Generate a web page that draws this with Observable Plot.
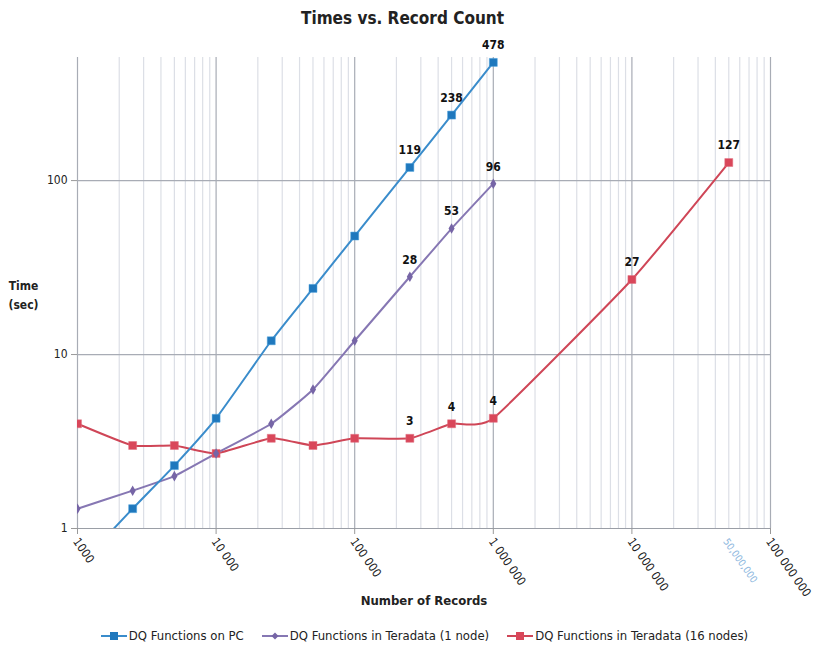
<!DOCTYPE html>
<html><head><meta charset="utf-8">
<script src="https://cdn.jsdelivr.net/npm/d3@7"></script>
<script src="https://cdn.jsdelivr.net/npm/@observablehq/plot@0.6"></script>
<style>
body{margin:0;background:#fff;font-family:"Liberation Sans Narrow","DejaVu Sans Condensed","Roboto Condensed",Arial,sans-serif;color:#222}
#title{width:815px;height:34px;line-height:36px;text-align:center;font-weight:bold;font-size:17px;color:#222;box-sizing:border-box;padding-right:10px}
#legend{width:815px;height:31px;display:flex;justify-content:center;align-items:center;font-size:13px;color:#222;gap:0;box-sizing:border-box;padding-left:34px}
.item{display:flex;align-items:center;margin:0 9px}
.item svg{margin-right:2px}
</style></head>
<body>
<div id="title">Times vs. Record Count</div>
<div id="chart"></div>
<div id="legend"></div>
<script>
// ---- data ----
const records = [1000, 2500, 5000, 10000, 25000, 50000, 100000, 250000, 500000, 1000000];
const pcTimes = [0.6, 1.3, 2.3, 4.3, 12, 24, 48, 119, 238, 478];
const node1Times = [1.3, 1.65, 2.0, 2.7, 4.0, 6.3, 12, 28, 53, 96];
const records16 = [1000, 2500, 5000, 10000, 25000, 50000, 100000, 250000, 500000, 1000000, 10000000, 50000000];
const node16Times = [4.0, 3.0, 3.0, 2.7, 3.3, 3.0, 3.3, 3.3, 4.0, 4.3, 27, 127];
const pcLabels = ["", "", "", "", "", "", "", "119", "238", "478"];
const node1Labels = ["", "", "", "", "", "", "", "28", "53", "96"];
const node16Labels = ["", "", "", "", "", "", "", "3", "4", "4", "27", "127"];
const seriesNames = ["DQ Functions on PC", "DQ Functions in Teradata (1 node)", "DQ Functions in Teradata (16 nodes)"];
const xTickValues = [1e3, 1e4, 1e5, 1e6, 1e7, 1e8];
const xTickLabels = ["1000", "10 000", "100 000", "1 000 000", "10 000 000", "100 000 000"];
const extraTickValues = [5e7];
const extraTickLabels = ["50,000,000"];
const yTickValues = [1, 10, 100];

// ---- build ----
const colors = {pcLine:"#3a8ccb", pcDot:"#1f78bd", n1Line:"#8677b3", n1Dot:"#7665a6", n16Line:"#cf4657", n16Dot:"#d9475a"};
const pc = records.map((r,i)=>({x:r, y:pcTimes[i], label:pcLabels[i]}));
const n1 = records.map((r,i)=>({x:r, y:node1Times[i], label:node1Labels[i]}));
const n16 = records16.map((r,i)=>({x:r, y:node16Times[i], label:node16Labels[i]}));
const minor = [];
for (let e = 3; e < 8; e++) for (let k = 2; k <= 9; k++) minor.push(k * 10 ** e);
const xt = xTickValues.map((v,i)=>({v, t:xTickLabels[i]}));
const xe = extraTickValues.map((v,i)=>({v, t:extraTickLabels[i]}));
const ff = '"Liberation Sans Narrow","DejaVu Sans Condensed",Arial,sans-serif';
const curve = "cardinal", tension = 0.55;

const chart = Plot.plot({
  width: 815, height: 586,
  marginTop: 23, marginLeft: 77, marginRight: 45, marginBottom: 92,
  style: {fontFamily: ff, fontSize: "12px", color: "#222", background: "#fff", overflow: "visible"},
  x: {type: "log", domain: [1e3, 1e8], axis: null},
  y: {type: "log", domain: [1, 510], axis: null},
  marks: [
    Plot.ruleX(minor, {stroke: "#dcdfe6", strokeWidth: 1.2}),
    Plot.ruleX(xTickValues, {stroke: "#a8acb5", strokeWidth: 1.2}),
    Plot.ruleY([10, 100], {stroke: "#a8acb5", strokeWidth: 1.2}),
    Plot.ruleY([1], {stroke: "#9a9ea6", strokeWidth: 1.2}),
    Plot.axisX({ticks: xTickValues, tickSize: 6, tickFormat: () => "", stroke: "#999", label: null}),
    Plot.axisY({ticks: yTickValues, tickSize: 6, tickPadding: 4, tickFormat: d => String(d), stroke: "#999", fill: "#222", fontSize: 12, label: null}),
    Plot.text(xt, {x: "v", text: "t", frameAnchor: "bottom", rotate: 55, textAnchor: "start", dx: -5, dy: 13, fill: "#222", fontSize: 12}),
    Plot.text(xe, {x: "v", text: "t", frameAnchor: "bottom", rotate: 55, textAnchor: "start", dx: -6, dy: 13, fill: "#8db7de", fontSize: 10}),
    Plot.text(["Time\n(sec)"], {frameAnchor: "left", dx: -54, textAnchor: "middle", lineHeight: 1.6, fontWeight: "bold", fontSize: 12, fill: "#222"}),
    Plot.text(["Number of Records"], {frameAnchor: "bottom", dy: 76, textAnchor: "middle", fontWeight: "bold", fontSize: 13, fill: "#222"}),
    Plot.line(n16, {x: "x", y: "y", stroke: colors.n16Line, strokeWidth: 2, curve, tension, clip: true}),
    Plot.line(n1, {x: "x", y: "y", stroke: colors.n1Line, strokeWidth: 2, curve, tension, clip: true}),
    Plot.line(pc, {x: "x", y: "y", stroke: colors.pcLine, strokeWidth: 2, curve, tension, clip: true}),
    Plot.dot(n16, {x: "x", y: "y", symbol: "square", r: 4.5, fill: colors.n16Dot, stroke: "#e07080", strokeWidth: 0.5, clip: true}),
    Plot.dot(n1, {x: "x", y: "y", symbol: "diamond", r: 3.2, fill: colors.n1Dot, clip: true}),
    Plot.dot(pc, {x: "x", y: "y", symbol: "square", r: 4.5, fill: colors.pcDot, stroke: "#4aa0dc", strokeWidth: 0.5, clip: true}),
    Plot.text(pc, {x: "x", y: "y", text: "label", dy: -17, fontWeight: "bold", fontSize: 12, fill: "#111"}),
    Plot.text(n1, {x: "x", y: "y", text: "label", dy: -17, fontWeight: "bold", fontSize: 12, fill: "#111"}),
    Plot.text(n16, {x: "x", y: "y", text: "label", dy: -17, fontWeight: "bold", fontSize: 12, fill: "#111"})
  ]
});
document.getElementById("chart").append(chart);

// legend
const leg = d3.select("#legend");
const legItems = [
  {name: seriesNames[0], line: colors.pcLine, dot: colors.pcDot, sym: "square"},
  {name: seriesNames[1], line: colors.n1Line, dot: colors.n1Dot, sym: "diamond"},
  {name: seriesNames[2], line: colors.n16Line, dot: colors.n16Dot, sym: "square"}
];
for (const it of legItems) {
  const d = leg.append("div").attr("class", "item");
  const s = d.append("svg").attr("width", 26).attr("height", 12);
  s.append("line").attr("x1", 0).attr("x2", 26).attr("y1", 6).attr("y2", 6).attr("stroke", it.line).attr("stroke-width", 2);
  if (it.sym === "square") s.append("rect").attr("x", 9).attr("y", 2).attr("width", 8).attr("height", 8).attr("fill", it.dot);
  else s.append("path").attr("d", "M13,2.5L16.5,6L13,9.5L9.5,6Z").attr("fill", it.dot);
  d.append("span").text(it.name);
}
</script>
</body></html>
